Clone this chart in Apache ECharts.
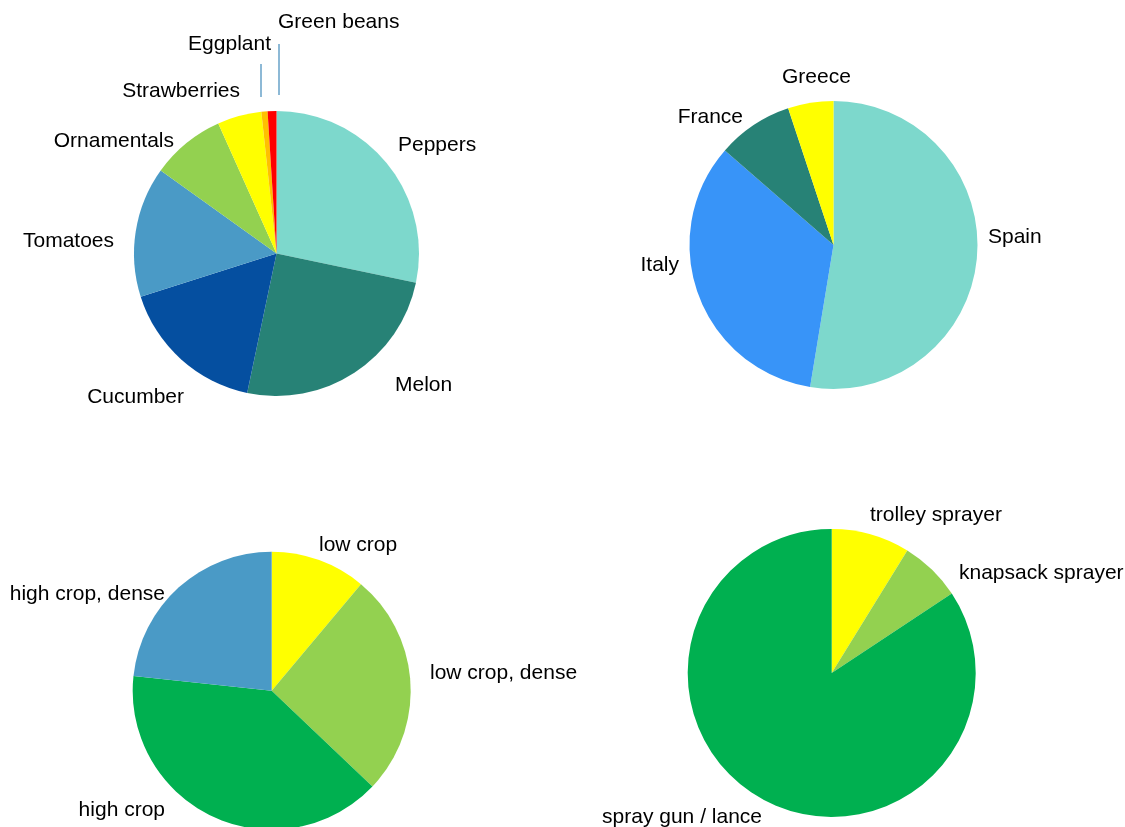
<!DOCTYPE html>
<html>
<head>
<meta charset="utf-8">
<script src="https://cdn.jsdelivr.net/npm/echarts@6/dist/echarts.min.js"></script>
<style>
html,body{margin:0;padding:0;background:#fff;}
#chart{width:1125px;height:827px;}
</style>
</head>
<body>
<div id="chart"></div>
<script>
// ---- data ----
const cropNames = ['Peppers','Melon','Cucumber','Tomatoes','Ornamentals','Strawberries','Eggplant','Green beans'];
const cropShares = [28.3, 25.0, 16.8, 14.8, 8.4, 5.0, 0.7, 1.0];

const countryNames = ['Spain','Italy','France','Greece'];
const countryShares = [52.6, 33.8, 8.5, 5.1];

const cropTypeNames = ['low crop','low crop, dense','high crop','high crop, dense'];
const cropTypeShares = [11.1, 26.0, 39.6, 23.3];

const sprayerNames = ['trolley sprayer','knapsack sprayer','spray gun / lance'];
const sprayerShares = [8.8, 6.9, 84.3];

// ---- styles ----
const cropColors = ['#7dd8cc','#278276','#054fa0','#4a9ac6','#93d150','#ffff00','#ffc000','#ff0000'];
const countryColors = ['#7dd8cc','#3894f8','#278276','#ffff00'];
const cropTypeColors = ['#ffff00','#93d150','#00b050','#4a9ac6'];
const sprayerColors = ['#ffff00','#93d150','#00b050'];

// label placement: [x, y, align, linePoints?]
const labelPlacement = [
  [[398,145,'left'],[395,385,'left'],[184,397,'right'],[114,241,'right'],[174,141,'right'],[240,91,'right'],
   [271,44,'right',[[261,97],[261,80],[261,64]]],[278,22,'left',[[279,95],[279,70],[279,44]]]],
  [[988,237,'left'],[679,265,'right'],[743,117,'right'],[782,77,'left']],
  [[319,545,'left'],[430,673,'left'],[165,810,'right'],[165,594,'right']],
  [[870,515,'left'],[959,573,'left'],[762,817,'right']]
];
const lineLabelled = [[6,7],[],[],[]];

function buildData(names, values, colors, si){
  return names.map((n,i)=>({
    name:n, value:values[i],
    itemStyle:{color:colors[i]},
    labelLine:{show: lineLabelled[si].indexOf(i)>=0, lineStyle:{color:'#8db9d6', width:2}}
  }));
}

function pieSeries(names, values, colors, si, center, radius){
  return {
    type:'pie', center:center, radius:radius, startAngle:90, clockwise:true,
    avoidLabelOverlap:false, silent:true, animation:false,
    itemStyle:{borderWidth:0},
    label:{show:true, position:'outside', formatter:'{b}', color:'#000',
           fontFamily:'Liberation Sans, Arial, sans-serif', fontSize:21},
    labelLine:{show:false},
    labelLayout:function(p){
      const pl = labelPlacement[si][p.dataIndex];
      const r = {x:pl[0], y:pl[1], align:pl[2], verticalAlign:'middle'};
      if (pl[3]) r.labelLinePoints = pl[3];
      return r;
    },
    data: buildData(names, values, colors, si)
  };
}

const chart = echarts.init(document.getElementById('chart'), null, {renderer:'canvas'});
chart.setOption({
  backgroundColor:'#fff',
  animation:false,
  series:[
    pieSeries(cropNames, cropShares, cropColors, 0, [276.5,253.5], 142.5),
    pieSeries(countryNames, countryShares, countryColors, 1, [833.5,245], 144),
    pieSeries(cropTypeNames, cropTypeShares, cropTypeColors, 2, [271.7,690.7], 139),
    pieSeries(sprayerNames, sprayerShares, sprayerColors, 3, [831.7,673], 144)
  ]
});
</script>
</body>
</html>
